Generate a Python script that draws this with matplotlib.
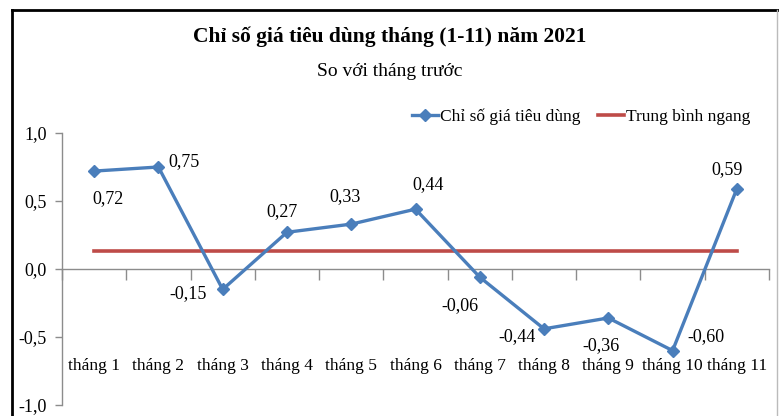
import matplotlib
matplotlib.use("Agg")
import matplotlib.pyplot as plt
from matplotlib.lines import Line2D

plt.rcParams['font.family'] = ['Liberation Serif', 'DejaVu Serif']

categories = ["tháng 1", "tháng 2", "tháng 3", "tháng 4", "tháng 5", "tháng 6",
              "tháng 7", "tháng 8", "tháng 9", "tháng 10", "tháng 11"]
cpi_values = [0.72, 0.75, -0.15, 0.27, 0.33, 0.44, -0.06, -0.44, -0.36, -0.60, 0.59]
average_value = 0.135
y_ticks = [-1.0, -0.5, 0.0, 0.5, 1.0]

title = "Chỉ số giá tiêu dùng tháng (1-11) năm 2021"
subtitle = "So với tháng trước"
series_name = "Chỉ số giá tiêu dùng"
average_name = "Trung bình ngang"

# label centre offsets from the point, in pixels (dx, dy)
label_offsets = [(14, -28), (26, 5), (-35, -4), (-5, 21), (-6, 28), (13, 25),
                 (-20, -28), (-27, -8), (-7, -28), (33, 14), (-10, 19)]

blue = "#4a7ebb"
red = "#be4b48"

fig = plt.figure(figsize=(7.79, 4.16), dpi=100)
ax = fig.add_axes([62 / 779, 11 / 416, (769 - 62) / 779, (405 - 133) / 416])

x = list(range(len(categories)))
ax.plot(x, cpi_values, color=blue, lw=2.4, marker='D', markersize=6.5,
        markerfacecolor=blue, markeredgecolor=blue, zorder=3)
ax.plot([x[0], x[-1]], [average_value, average_value], color=red, lw=2.6, zorder=2)

for xi, v, (dx, dy) in zip(x, cpi_values, label_offsets):
    ax.annotate(f"{v:.2f}".replace('.', ','), (xi, v), xytext=(dx, dy),
                textcoords='offset pixels', ha='center', va='center', fontsize=13)

for xi, c in zip(x, categories):
    ax.text(xi, -0.745, c, ha='center', va='baseline', fontsize=12.5)

ax.set_xlim(-0.5, len(categories) - 0.5)
ax.set_ylim(-1.0, 1.0)
ax.set_yticks(y_ticks)
ax.set_yticklabels([f"{t:.1f}".replace('.', ',') for t in y_ticks], fontsize=13)
ax.set_xticks([i + 0.5 for i in range(-1, len(categories))])
ax.set_xticklabels([])

ax.spines['bottom'].set_position(('data', 0))
ax.spines['top'].set_visible(False)
ax.spines['right'].set_visible(False)
for s in ['bottom', 'left']:
    ax.spines[s].set_color('#8c8c8c')
    ax.spines[s].set_linewidth(1.0)
ax.tick_params(axis='x', direction='out', length=8, color='#8c8c8c', width=1)
ax.tick_params(axis='y', direction='out', length=5, color='#8c8c8c', width=1, pad=6)

fig.text(0.5, 1 - 37 / 416, title, ha='center', va='center', fontsize=15.5, fontweight='bold')
fig.text(0.5, 1 - 72 / 416, subtitle, ha='center', va='center', fontsize=14)

handles = [Line2D([], [], color=blue, lw=2.4, marker='D', markersize=6),
           Line2D([], [], color=red, lw=2.6)]
fig.legend(handles, [series_name, average_name], loc='center right',
           bbox_to_anchor=(750 / 779, 1 - 117 / 416), ncol=2, frameon=False,
           fontsize=12.5, handlelength=1.5, handletextpad=0.1, columnspacing=1.0,
           borderaxespad=0, borderpad=0)

# outer border
fig.add_artist(Line2D([12 / 779, 12 / 779], [0, 1 - 10 / 416], transform=fig.transFigure,
                      color='black', lw=2))
fig.add_artist(Line2D([12 / 779, 1], [1 - 10 / 416, 1 - 10 / 416], transform=fig.transFigure,
                      color='black', lw=2))
fig.add_artist(Line2D([777 / 779, 777 / 779], [0, 1 - 10 / 416], transform=fig.transFigure,
                      color='#bbbbbb', lw=1))

fig.savefig("out.png", dpi=100)
